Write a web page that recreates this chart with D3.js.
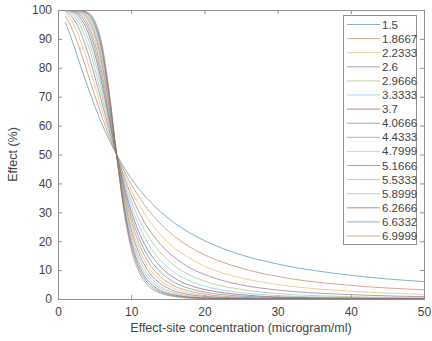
<!DOCTYPE html>
<html><head><meta charset="utf-8">
<script src="https://cdn.jsdelivr.net/npm/d3@7"></script>
<style>body{margin:0;background:#fff}svg{display:block}text{font-family:"Liberation Sans",Arial,sans-serif}</style>
</head><body><svg id="c" width="432" height="341"></svg>
<script>
const concentrations = [1,2,3,4,5,6,7,8,9,10,11,12,13,14,16,18,20,25,30,40,50];
const gammaLabels = ["1.5","1.8667","2.2333","2.6","2.9666","3.3333","3.7","4.0666","4.4333","4.7999","5.1666","5.5333","5.8999","6.2666","6.6332","6.9999"];
const s1  = [95.8,88.9,81.3,73.9,66.9,60.6,55.0,50,45.6,41.7,38.3,35.2,32.6,30.2,26.1,22.9,20.2,15.3,12.1,8.2,6.0];
const s2  = [98.0,93.0,86.2,78.5,70.6,63.1,56.2,50,44.5,39.7,35.6,31.9,28.8,26.0,21.5,18.0,15.3,10.7,7.8,4.7,3.2];
const s3  = [99.0,95.7,89.9,82.5,74.1,65.5,57.4,50,43.5,37.8,32.9,28.8,25.3,22.3,17.5,14.1,11.4,7.3,5.0,2.7,1.6];
const s4  = [99.6,97.4,92.8,85.8,77.2,67.9,58.6,50,42.4,35.9,30.4,25.8,22.1,18.9,14.2,10.8,8.5,4.9,3.1,1.5,0.8];
const s5  = [99.8,98.4,94.8,88.7,80.1,70.1,59.8,50,41.3,34.0,28.0,23.1,19.1,16.0,11.3,8.3,6.2,3.3,1.9,0.8,0.4];
const s6  = [99.9,99.0,96.3,91.0,82.7,72.3,60.9,50,40.3,32.2,25.7,20.6,16.5,13.4,9.0,6.3,4.5,2.2,1.2,0.5,0.2];
const s7  = [100,99.4,97.4,92.9,85.1,74.4,62.1,50,39.3,30.5,23.5,18.2,14.2,11.2,7.1,4.7,3.3,1.5,0.7,0.3,0.1];
const s8  = [100,99.6,98.2,94.4,87.1,76.3,63.2,50,38.2,28.8,21.5,16.1,12.2,9.3,5.6,3.6,2.4,1.0,0.5,0.1,0.1];
const s9  = [100,99.8,98.7,95.6,88.9,78.2,64.4,50,37.2,27.1,19.6,14.2,10.4,7.7,4.4,2.7,1.7,0.6,0.3,0.1,0.0];
const s10 = [100,99.9,99.1,96.5,90.5,79.9,65.5,50,36.2,25.5,17.8,12.5,8.9,6.4,3.5,2.0,1.2,0.4,0.2,0.0,0.0];
const s11 = [100,99.9,99.4,97.3,91.9,81.6,66.6,50,35.2,24.0,16.2,11.0,7.5,5.3,2.7,1.5,0.9,0.3,0.1,0.0,0.0];
const s12 = [100,100,99.6,97.9,93.1,83.1,67.7,50,34.3,22.5,14.6,9.6,6.4,4.3,2.1,1.1,0.6,0.2,0.1,0,0];
const s13 = [100,100,99.7,98.4,94.1,84.5,68.7,50,33.3,21.1,13.2,8.4,5.4,3.6,1.6,0.8,0.4,0.1,0,0,0];
const s14 = [100,100,99.8,98.7,95.0,85.9,69.8,50,32.3,19.8,12.0,7.3,4.6,2.9,1.3,0.6,0.3,0.1,0,0,0];
const s15 = [100,100,99.9,99.0,95.8,87.1,70.8,50,31.4,18.5,10.8,6.4,3.8,2.4,1.0,0.5,0.2,0.1,0,0,0];
const s16 = [100,100,99.9,99.2,96.4,88.2,71.8,50,30.5,17.3,9.7,5.5,3.2,2.0,0.8,0.3,0.2,0,0,0,0];
const seriesValues = [s1,s2,s3,s4,s5,s6,s7,s8,s9,s10,s11,s12,s13,s14,s15,s16];
const xTicks = [0,10,20,30,40,50];
const yTicks = [0,10,20,30,40,50,60,70,80,90,100];
const palette = ["#2f7fae","#c06a48","#d9b45a","#7f5a8a","#9bb86a","#6cc0e0","#8a3a4a"];

const svg = d3.select("#c");
const L = 58, R = 424, T = 10, B = 299;
const x = d3.scaleLinear().domain([0,50]).range([L,R]);
const y = d3.scaleLinear().domain([0,100]).range([B,T]);
const axisColor = "#8f8f8f", textColor = "#444";

svg.append("defs").append("clipPath").attr("id","clip")
  .append("rect").attr("x",L).attr("y",T).attr("width",R-L).attr("height",B-T);

const line = d3.line().x(d=>x(d[0])).y(d=>y(d[1])).curve(d3.curveMonotoneX);
const g = svg.append("g").attr("clip-path","url(#clip)");
seriesValues.forEach((vals,i)=>{
  g.append("path").datum(concentrations.map((c,j)=>[c,vals[j]]))
    .attr("d",line).attr("fill","none")
    .attr("stroke",palette[i%7]).attr("stroke-opacity",0.6).attr("stroke-width",1);
});

const axB = svg.append("g").attr("transform",`translate(0,${B})`)
  .call(d3.axisBottom(x).tickValues(xTicks).tickSize(-4).tickPadding(8));
const axT = svg.append("g").attr("transform",`translate(0,${T})`)
  .call(d3.axisTop(x).tickValues(xTicks).tickSize(-4).tickFormat(""));
const axL = svg.append("g").attr("transform",`translate(${L},0)`)
  .call(d3.axisLeft(y).tickValues(yTicks).tickSize(-4).tickPadding(6));
const axR = svg.append("g").attr("transform",`translate(${R},0)`)
  .call(d3.axisRight(y).tickValues(yTicks).tickSize(-4).tickFormat(""));
[axB,axT,axL,axR].forEach(a=>{
  a.selectAll("path").attr("stroke",axisColor).attr("stroke-width",1);
  a.selectAll("line").attr("stroke",axisColor);
  a.selectAll("text").attr("fill",textColor).style("font-size","12px");
});

svg.append("text").attr("x",(L+R)/2).attr("y",332).attr("text-anchor","middle")
  .attr("fill",textColor).style("font-size","12.5px").text("Effect-site concentration (microgram/ml)");
svg.append("text").attr("transform",`translate(17,${(T+B)/2}) rotate(-90)`).attr("text-anchor","middle")
  .attr("fill",textColor).style("font-size","12.5px").text("Effect (%)");

const lg = svg.append("g");
lg.append("rect").attr("x",343.5).attr("y",15.5).attr("width",73).attr("height",229)
  .attr("fill","#fff").attr("stroke",axisColor).attr("stroke-width",1);
gammaLabels.forEach((lab,i)=>{
  const yy = 24.5 + i*14.1;
  lg.append("line").attr("x1",347).attr("x2",380).attr("y1",yy).attr("y2",yy)
    .attr("stroke",palette[i%7]).attr("stroke-opacity",0.6).attr("stroke-width",1);
  lg.append("text").attr("x",382).attr("y",yy+4).attr("fill",textColor)
    .style("font-size","11.5px").text(lab);
});
</script></body></html>
